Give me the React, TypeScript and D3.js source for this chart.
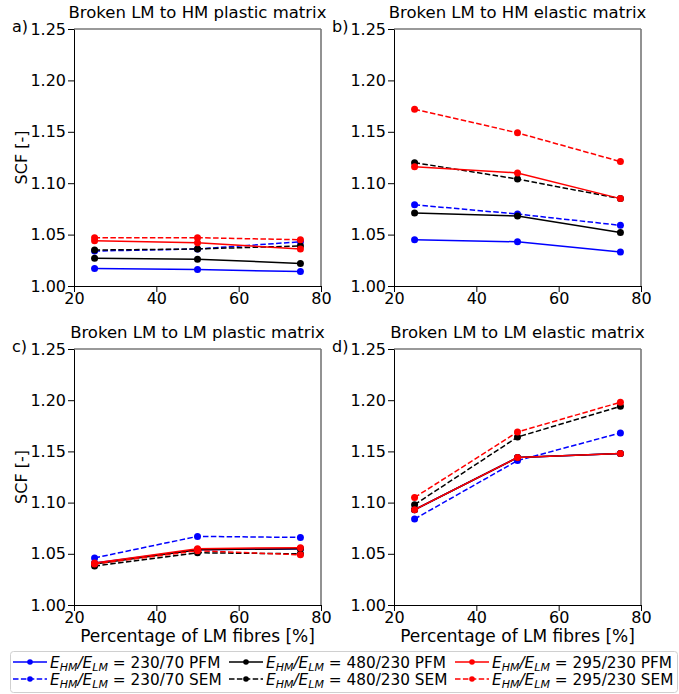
import React, { useEffect, useRef } from 'react';
import * as d3 from 'd3';

const fibrePct = [25, 50, 75];
const xTicks = [20, 40, 60, 80];
const yTicks = [1.0, 1.05, 1.1, 1.15, 1.2, 1.25];

// a) Broken LM to HM plastic matrix
const a230PFM = [1.017, 1.016, 1.014];
const a230SEM = [1.034, 1.036, 1.043];
const a480PFM = [1.027, 1.026, 1.022];
const a480SEM = [1.035, 1.036, 1.039];
const a295PFM = [1.044, 1.042, 1.036];
const a295SEM = [1.047, 1.047, 1.045];

// b) Broken LM to HM elastic matrix
const b230PFM = [1.045, 1.043, 1.033];
const b230SEM = [1.079, 1.070, 1.059];
const b480PFM = [1.071, 1.068, 1.052];
const b480SEM = [1.120, 1.104, 1.085];
const b295PFM = [1.116, 1.110, 1.085];
const b295SEM = [1.172, 1.149, 1.121];

// c) Broken LM to LM plastic matrix
const c230PFM = [1.041, 1.054, 1.055];
const c230SEM = [1.046, 1.067, 1.066];
const c480PFM = [1.040, 1.054, 1.055];
const c480SEM = [1.038, 1.051, 1.050];
const c295PFM = [1.041, 1.055, 1.056];
const c295SEM = [1.040, 1.053, 1.049];

// d) Broken LM to LM elastic matrix
const d230PFM = [1.093, 1.144, 1.148];
const d230SEM = [1.084, 1.141, 1.168];
const d480PFM = [1.093, 1.144, 1.148];
const d480SEM = [1.098, 1.164, 1.194];
const d295PFM = [1.093, 1.144, 1.148];
const d295SEM = [1.105, 1.169, 1.198];

const ratios = ['230/70', '230/70', '480/230', '480/230', '295/230', '295/230'];
const models = ['PFM', 'SEM', 'PFM', 'SEM', 'PFM', 'SEM'];
const colors = ['#0000ff', '#0000ff', '#000000', '#000000', '#ff0000', '#ff0000'];

const FONT = 'DejaVu Sans, sans-serif';

const panels = [
  { tag: 'a)', title: 'Broken LM to HM plastic matrix', x0: 74, x1: 321, y0: 29, y1: 286, ylab: true, xlab: false,
    series: [a230PFM, a230SEM, a480PFM, a480SEM, a295PFM, a295SEM] },
  { tag: 'b)', title: 'Broken LM to HM elastic matrix', x0: 394, x1: 641, y0: 29, y1: 286, ylab: false, xlab: false,
    series: [b230PFM, b230SEM, b480PFM, b480SEM, b295PFM, b295SEM] },
  { tag: 'c)', title: 'Broken LM to LM plastic matrix', x0: 74, x1: 321, y0: 349, y1: 605, ylab: true, xlab: true,
    series: [c230PFM, c230SEM, c480PFM, c480SEM, c295PFM, c295SEM] },
  { tag: 'd)', title: 'Broken LM to LM elastic matrix', x0: 394, x1: 641, y0: 349, y1: 605, ylab: false, xlab: true,
    series: [d230PFM, d230SEM, d480PFM, d480SEM, d295PFM, d295SEM] },
];

export default function App() {
  const ref = useRef<SVGSVGElement>(null);

  useEffect(() => {
    const svg = d3.select(ref.current);
    svg.selectAll('*').remove();

    panels.forEach(p => {
      const x = d3.scaleLinear().domain([20, 80]).range([p.x0, p.x1]);
      const y = d3.scaleLinear().domain([1.0, 1.25]).range([p.y1, p.y0]);
      const g = svg.append('g');

      // top / right spines
      g.append('line').attr('x1', p.x0).attr('x2', p.x1).attr('y1', p.y0).attr('y2', p.y0)
        .attr('stroke', '#777').attr('stroke-width', 1.6);
      g.append('line').attr('x1', p.x1).attr('x2', p.x1).attr('y1', p.y0).attr('y2', p.y1)
        .attr('stroke', '#777').attr('stroke-width', 1.6);

      const xAxis = d3.axisBottom(x).tickValues(xTicks).tickSize(6).tickPadding(1).tickSizeOuter(0);
      const yAxis = d3.axisLeft(y).tickValues(yTicks).tickSize(6).tickPadding(2).tickSizeOuter(0)
        .tickFormat(d3.format('.2f'));

      const gx = g.append('g').attr('transform', `translate(0,${p.y1})`).call(xAxis);
      const gy = g.append('g').attr('transform', `translate(${p.x0},0)`).call(yAxis);
      [gx, gy].forEach(ax => {
        ax.attr('font-size', 16).attr('font-family', FONT);
        ax.selectAll('text').attr('fill', '#000');
        ax.selectAll('line').attr('stroke', '#000');
        ax.select('.domain').attr('stroke', '#000');
      });

      g.append('text').attr('x', (p.x0 + p.x1) / 2).attr('y', p.y0 - 11)
        .attr('text-anchor', 'middle').attr('font-size', 16.5).attr('font-family', FONT)
        .text(p.title);
      g.append('text').attr('x', p.x0 - 62).attr('y', p.y0 + 3)
        .attr('font-size', 16).attr('font-family', FONT).text(p.tag);

      if (p.ylab) {
        g.append('text')
          .attr('transform', `translate(27,${(p.y0 + p.y1) / 2}) rotate(-90)`)
          .attr('text-anchor', 'middle').attr('font-size', 16).attr('font-family', FONT)
          .text('SCF [-]');
      }
      if (p.xlab) {
        g.append('text').attr('x', (p.x0 + p.x1) / 2).attr('y', p.y1 + 37)
          .attr('text-anchor', 'middle').attr('font-size', 17).attr('font-family', FONT)
          .text('Percentage of LM fibres [%]');
      }

      const line = d3.line<number>().x((d, i) => x(fibrePct[i])).y(d => y(d));
      p.series.forEach((vals, si) => {
        g.append('path').datum(vals).attr('d', line)
          .attr('fill', 'none').attr('stroke', colors[si]).attr('stroke-width', 1.5)
          .attr('stroke-dasharray', si % 2 === 1 ? '5.5,2.4' : null);
        g.selectAll(null).data(vals).enter().append('circle')
          .attr('cx', (d, i) => x(fibrePct[i])).attr('cy', d => y(d)).attr('r', 3.5)
          .attr('fill', colors[si]);
      });
    });

    // legend
    const lg = svg.append('g');
    lg.append('rect').attr('x', 10.5).attr('y', 651.5).attr('width', 667).attr('height', 41)
      .attr('rx', 3).attr('fill', '#fff').attr('stroke', '#d0d0d0');
    const colX = [13, 229, 455];
    const rowY = [662, 679];
    ratios.forEach((r, i) => {
      const cx = colX[Math.floor(i / 2)];
      const cy = rowY[i % 2];
      lg.append('line').attr('x1', cx).attr('x2', cx + 34).attr('y1', cy).attr('y2', cy)
        .attr('stroke', colors[i]).attr('stroke-width', 1.5)
        .attr('stroke-dasharray', i % 2 === 1 ? '5.5,2.4' : null);
      lg.append('circle').attr('cx', cx + 17).attr('cy', cy).attr('r', 2.8).attr('fill', colors[i]);
      const t = lg.append('text').attr('x', cx + 37).attr('y', cy + 5.5)
        .attr('font-size', 15.3).attr('font-family', FONT);
      t.append('tspan').attr('font-style', 'italic').text('E');
      t.append('tspan').attr('font-style', 'italic').attr('font-size', 11).attr('dy', 3).text('HM');
      t.append('tspan').attr('font-style', 'italic').attr('dy', -3).text('/E');
      t.append('tspan').attr('font-style', 'italic').attr('font-size', 11).attr('dy', 3).text('LM');
      t.append('tspan').attr('dy', -3).text(` = ${r} ${models[i]}`);
    });
  }, []);

  return (
    <svg ref={ref} width={679} height={694}
      style={{ position: 'absolute', left: 0, top: 0, background: '#fff' }} />
  );
}
